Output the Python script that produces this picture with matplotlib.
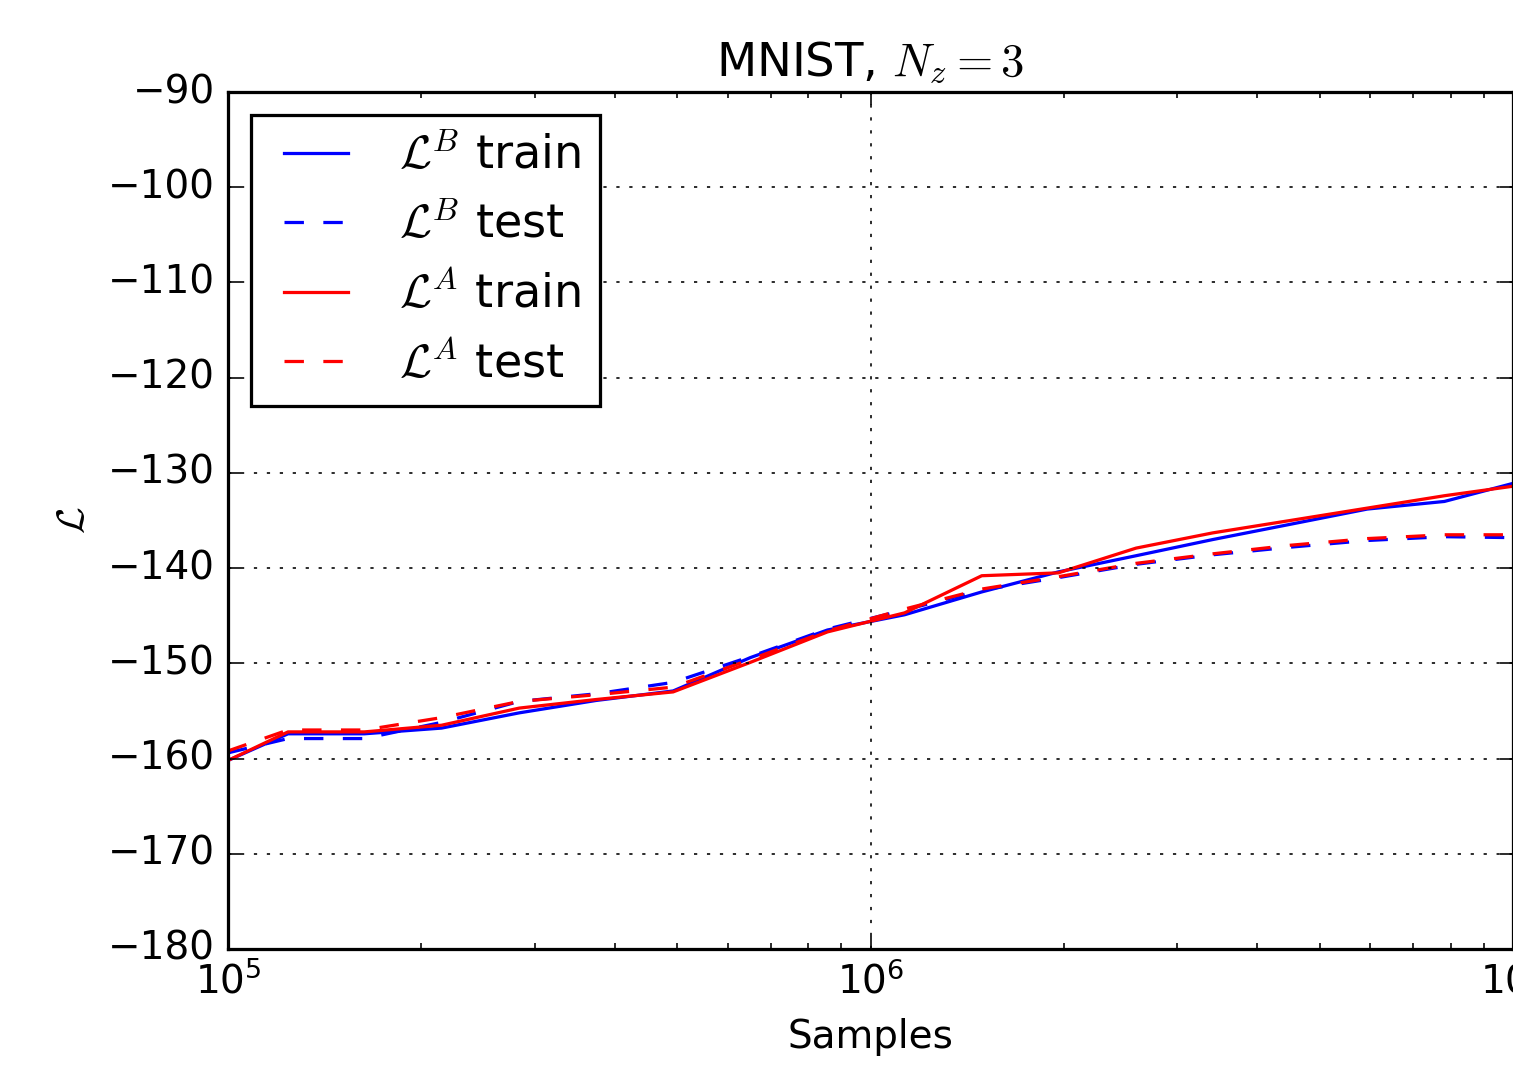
import matplotlib
matplotlib.use('Agg')
import matplotlib.pyplot as plt

# Samples seen (log-spaced checkpoints)
samples = [1.00e5, 1.24e5, 1.63e5, 2.15e5, 2.84e5, 3.74e5, 4.93e5, 6.50e5, 8.57e5,
           1.13e6, 1.49e6, 1.96e6, 2.59e6, 3.41e6, 4.50e6, 5.93e6, 7.82e6, 1.00e7]

# Bound values
LB_train = [-160.2, -157.4, -157.4, -156.8, -155.2, -153.9, -152.9, -149.4, -146.5,
            -144.9, -142.5, -140.4, -138.7, -137.0, -135.4, -133.8, -133.0, -131.1]
LB_test = [-159.4, -157.9, -157.9, -156.2, -154.0, -153.2, -152.0, -149.3, -146.4,
           -144.4, -142.3, -141.0, -139.6, -138.6, -137.8, -137.1, -136.7, -136.8]
LA_train = [-160.2, -157.2, -157.2, -156.5, -154.7, -153.8, -153.0, -149.9, -146.7,
            -144.7, -140.8, -140.5, -137.9, -136.3, -135.0, -133.7, -132.4, -131.4]
LA_test = [-159.2, -157.0, -157.0, -155.7, -154.0, -153.3, -152.5, -149.6, -146.6,
           -144.3, -142.2, -140.9, -139.5, -138.5, -137.6, -136.9, -136.5, -136.5]

plt.style.use('classic')
plt.rcParams['figure.facecolor'] = 'white'
plt.rcParams['savefig.facecolor'] = 'white'

fig = plt.figure(figsize=(1513 / 233, 1065 / 233), dpi=233)
ax = fig.add_axes([228 / 1513, 116 / 1065, 1285 / 1513, 857 / 1065])

ax.plot(samples, LB_train, 'b-', label=r'$\mathcal{L}^B$ train')
ax.plot(samples, LB_test, 'b--', label=r'$\mathcal{L}^B$ test')
ax.plot(samples, LA_train, 'r-', label=r'$\mathcal{L}^A$ train')
ax.plot(samples, LA_test, 'r--', label=r'$\mathcal{L}^A$ test')

ax.set_xscale('log')
ax.set_xlim(1e5, 1e7)
ax.set_ylim(-180, -90)
ax.grid(True)

ax.set_xlabel('Samples')
ax.set_ylabel(r'$\mathcal{L}$')
ax.set_title(r'MNIST, $N_z = 3$')
ax.legend(loc='upper left', fontsize=14.3)

fig.savefig('out.png', dpi=233)
